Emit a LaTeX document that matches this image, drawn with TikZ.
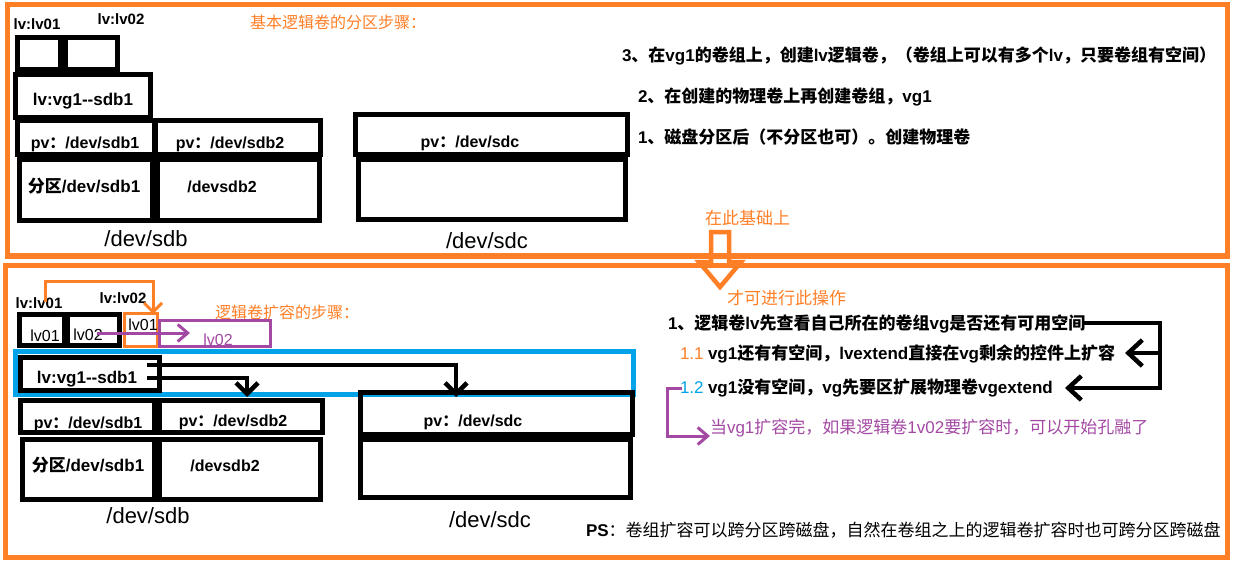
\documentclass[tikz,border=0pt]{standalone}
\usepackage{fontspec}
\setmainfont{Liberation Sans}
\newfontfamily\cjk{Noto Sans CJK SC}
\usetikzlibrary{arrows.meta}
\definecolor{lvorange}{RGB}{255,127,39}
\definecolor{lvblue}{RGB}{0,162,232}
\definecolor{lvpurple}{RGB}{163,73,164}
\newcommand\C[1]{{\cjk #1}}
\begin{document}
\begin{tikzpicture}[x=1pt,y=-1pt,
 every node/.style={inner sep=0pt,outer sep=0pt},
 box/.style 2 args={draw=black,line width=5pt,minimum width=#1,minimum height=#2},
 obox/.style 2 args={draw=lvorange,line width=3pt,minimum width=#1,minimum height=#2},
 pbox/.style 2 args={draw=lvpurple,line width=3pt,minimum width=#1,minimum height=#2},
 bbox/.style 2 args={draw=lvblue,line width=5pt,minimum width=#1,minimum height=#2},
 frame/.style={draw=lvorange,line width=5.5pt},
 harrow/.style={draw=lvorange,line width=4.5pt,line join=miter},
 lbl/.style={anchor=base,font=\bfseries\fontsize{15}{18}\selectfont},
 btxt/.style={anchor=base,font=\bfseries\fontsize{16}{19}\selectfont},
 ltxt/.style={anchor=base,font=\fontsize{16}{19}\selectfont},
 dev/.style={anchor=base,font=\fontsize{22}{26}\selectfont},
 rtxt/.style={anchor=base west,font=\bfseries\fontsize{17}{20}\selectfont},
 ntxt/.style={anchor=base west,font=\fontsize{17}{20}\selectfont},
 otxt/.style={anchor=base west,text=lvorange,font=\cjk\fontsize{16}{19}\selectfont},
 blkarr/.style={draw=black,line width=4.5pt,-{Straight Barb[length=11pt,width=22pt]}},
 orarr/.style={draw=lvorange,line width=3pt,-{Straight Barb[length=9pt,width=18pt]}},
 purarr/.style={draw=lvpurple,line width=3pt,-{Straight Barb[length=10pt,width=17pt]}}
]
\useasboundingbox (0,0) rectangle (1233,564);
\fill[white] (0,0) rectangle (1233,564);

% frames
\draw[frame] (7.5,4.5) rectangle (1227.5,256);
\draw[frame,line width=5pt] (5.5,265.5) rectangle (1227.5,557.5);

% ================= top section =================
\node[otxt] (t1title) at (250,29) {基本逻辑卷的分区步骤：};
\node[lbl] (tl1) at (37,30) {lv:lv01};
\node[lbl] (tl2) at (121,25) {lv:lv02};
\node[box={43pt}{32pt}] (tb1) at (39,53.5) {};
\node[box={52pt}{32pt}] (tb2) at (91.5,53.5) {};
\node[box={135pt}{43pt}] (tvg) at (83,96) {};
\node[anchor=base,font=\bfseries\fontsize{17}{20}\selectfont] (tvgt) at (83,106) {lv:vg1-{}-sdb1};
\node[box={137pt}{34pt}] (tpv1) at (86,137.5) {};
\node[box={165pt}{34pt}] (tpv2) at (238,137.5) {};
\node[box={133pt}{61pt}] (tp1) at (86,190) {};
\node[box={162pt}{61pt}] (tp2) at (238.5,190) {};
\node[btxt] (tpv1t) at (85,148.5) {pv\C{：}/dev/sdb1};
\node[btxt] (tpv2t) at (230,148.5) {pv\C{：}/dev/sdb2};
\node[btxt,font=\bfseries\fontsize{17}{20}\selectfont] (tp1t) at (84,193) {\C{分区}/dev/sdb1};
\node[btxt] (tp2t) at (222,193) {/devsdb2};
\node[dev] (tsdb) at (146,246) {/dev/sdb};
\node[box={272pt}{40pt}] (tcpv) at (491.5,134.5) {};
\node[box={267pt}{60pt}] (tclow) at (492,189.5) {};
\node[btxt] (tcpvt) at (470,148) {pv\C{：}/dev/sdc};
\node[dev] (tsdc) at (487,248) {/dev/sdc};

\node[rtxt] (s3) at (622,61.5) {3\C{、在}vg1\C{的卷组上，创建}lv\C{逻辑卷，（卷组上可以有多个}lv\C{，只要卷组有空间）}};
\node[rtxt] (s2) at (638,102.5) {2\C{、在创建的物理卷上再创建卷组，}vg1};
\node[rtxt] (s1) at (638,143.5) {1\C{、磁盘分区后（不分区也可）。创建物理卷}};

% ================= middle arrow =================
\node[otxt,font=\cjk\fontsize{17}{20}\selectfont] (mid1) at (705,224) {在此基础上};
\draw[harrow] (711,232) -- (729,232) -- (729,262) -- (741,262) -- (720,287) -- (699,262) -- (711,262) -- cycle;
\node[otxt,font=\cjk\fontsize{17}{20}\selectfont] (mid2) at (727,304) {才可进行此操作};

% ================= bottom section =================
\node[otxt] (b1title) at (215,318) {逻辑卷扩容的步骤：};
\node[lbl] (bl1) at (39,308) {lv:lv01};
\node[lbl] (bl2) at (123,303) {lv:lv02};
\node[bbox={618pt}{43pt}] (blue) at (324.5,373) {};
\node[box={45pt}{31pt}] (bb1) at (42,330) {};
\node[box={52pt}{31pt}] (bb2) at (93.5,330) {};
\node[ltxt] (bb1t) at (45,341.5) {lv01};
\node[ltxt] (bb2t) at (88,340) {lv02};
\node[obox={33pt}{33pt}] (bob) at (141,330) {};
\node[ltxt] (bobt) at (143,330) {lv01};
\node[pbox={111pt}{26pt}] (bpb) at (215,333.5) {};
\node[ltxt,text=lvpurple] (bpbt) at (218,345) {lv02};
\node[box={139pt}{33pt}] (bvg) at (90,374) {};
\node[anchor=base,font=\bfseries\fontsize{17}{20}\selectfont] (bvgt) at (87,383) {lv:vg1-{}-sdb1};
\node[box={134pt}{32pt}] (bpv1) at (87.5,416.5) {};
\node[box={163pt}{32pt}] (bpv2) at (241,416.5) {};
\node[box={132pt}{60pt}] (bp1) at (88.5,469.5) {};
\node[box={161pt}{60pt}] (bp2) at (240,469.5) {};
\node[btxt] (bpv1t) at (88,428) {pv\C{：}/dev/sdb1};
\node[btxt] (bpv2t) at (233,426.5) {pv\C{：}/dev/sdb2};
\node[btxt,font=\bfseries\fontsize{17}{20}\selectfont] (bp1t) at (88,471.5) {\C{分区}/dev/sdb1};
\node[btxt] (bp2t) at (225,471) {/devsdb2};
\node[dev] (bsdb) at (148,523) {/dev/sdb};
\node[box={272pt}{42pt}] (bcpv) at (496.5,413.5) {};
\node[box={270pt}{58pt}] (bclow) at (495.5,468.5) {};
\node[btxt] (bcpvt) at (473,426) {pv\C{：}/dev/sdc};
\node[dev] (bsdc) at (490,527) {/dev/sdc};

% connectors (left)
\coordinate (o1s) at (45,302);
\coordinate (o1e) at (153,314);
\draw[orarr] (o1s) -- (45,281) -| (o1e);
\coordinate (p1s) at (97,333);
\coordinate (p1e) at (190,333);
\draw[purarr] (p1s) -- (p1e);
\coordinate (a1s) at (147,365);
\coordinate (a1e) at (456,397);
\draw[blkarr] (a1s) -| (a1e);
\coordinate (a2s) at (147,378);
\coordinate (a2e) at (247,397);
\draw[blkarr] (a2s) -| (a2e);

% right texts
\node[rtxt] (r1) at (668,329.5) {1\C{、逻辑卷}lv\C{先查看自己所在的卷组}vg\C{是否还有可用空间}};
\node[ntxt,text=lvorange] (r11n) at (680,359.5) {1.1};
\node[rtxt] (r11) at (708,359.5) {vg1\C{还有有空间，}lvextend\C{直接在}vg\C{剩余的控件上扩容}};
\node[ntxt,text=lvblue] (r12n) at (680,393.5) {1.2};
\node[rtxt] (r12) at (708,393.5) {vg1\C{没有空间，}vg\C{先要区扩展物理卷}vgextend};
\node[ntxt,text=lvpurple,font=\fontsize{17}{20}\selectfont] (r13) at (710,433.5) {\C{当}vg1\C{扩容完，如果逻辑卷}1v02\C{要扩容时，可以开始孔融了}};
\node[rtxt,font=\fontsize{17}{20}\selectfont] (ps) at (586,536.5) {\textbf{PS}\C{：卷组扩容可以跨分区跨磁盘，自然在卷组之上的逻辑卷扩容时也可跨分区跨磁盘}};

% right brackets
\coordinate (k0) at (1082,323);
\coordinate (k1) at (1160,323);
\coordinate (k2) at (1160,353);
\coordinate (k3) at (1160,388);
\coordinate (k11) at (1125,353);
\coordinate (k12) at (1065,388);
\draw[blkarr,-{Straight Barb[length=13pt,width=24pt]}] (k0) -- (k1) -- (k3) -- (k12);
\draw[blkarr,-{Straight Barb[length=14pt,width=26pt]}] (k2) -- (k11);
\coordinate (q0) at (682,388);
\coordinate (q1) at (710,436);
\draw[purarr] (q0) -- (667,388) |- (q1);
\end{tikzpicture}
\end{document}
